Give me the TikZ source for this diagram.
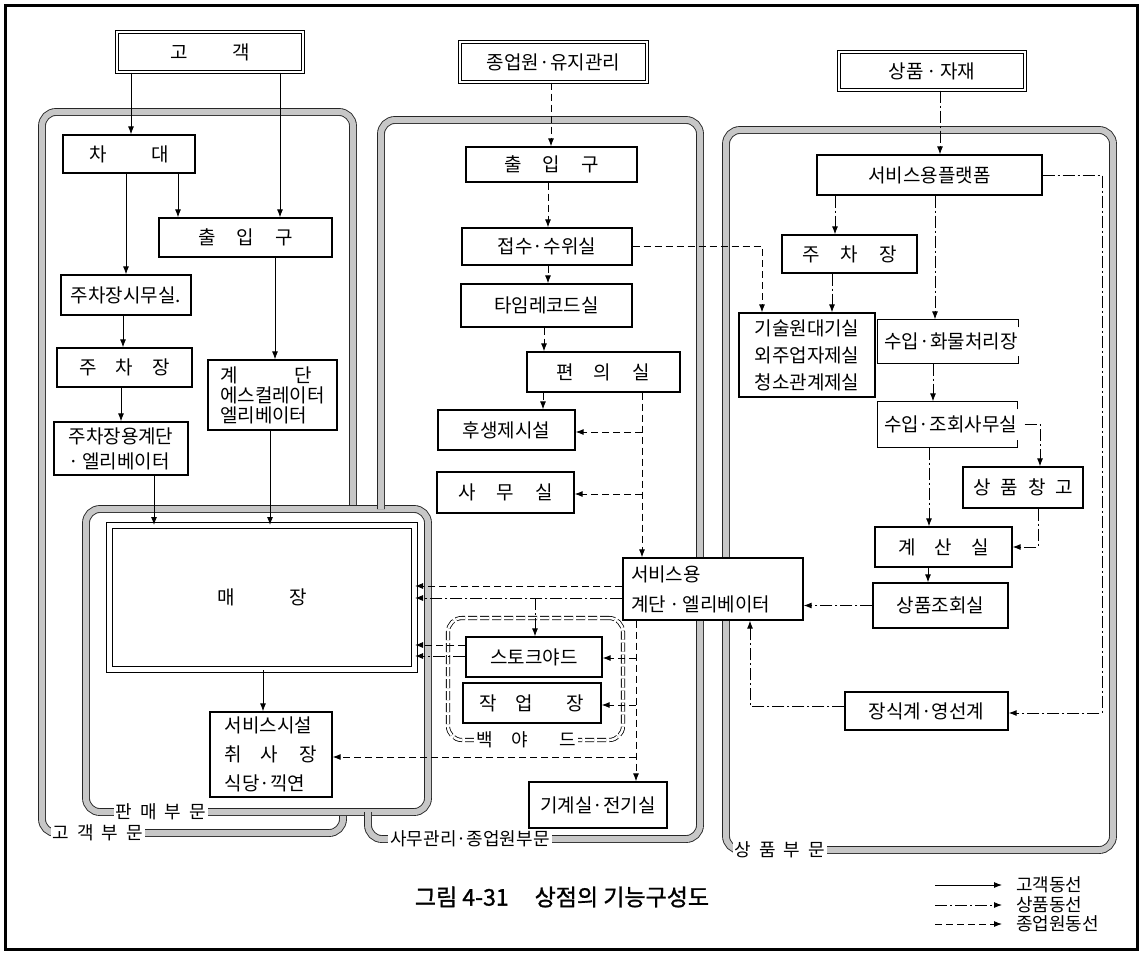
\documentclass[tikz,border=0pt]{standalone}
\usepackage{fontspec}
\newfontfamily\kr{Noto Sans CJK KR}
\newfontfamily\krb[FakeBold=1.2]{Noto Sans CJK KR}
\usetikzlibrary{arrows.meta,calc}
\newcommand\kgap[1]{\hspace*{#1pt}}
\begin{document}
\begin{tikzpicture}[x=1pt,y=-1pt,
  bx/.style={draw, line width=1.3pt, fill=white, inner sep=0pt, font={\kr\fontsize{19}{23}\selectfont}},
  dbx/.style={bx, double, double distance=2pt, line width=1pt},
  band/.style={draw=black!85, line width=0.9pt, double=black!22, double distance=6pt, rounded corners=14pt},
  blabel/.style={fill=white, inner sep=2pt, font={\kr\fontsize{18}{20}\selectfont}},
  tip/.style={-{Latex[length=8pt,width=6pt]}},
  cust/.style={line width=0.9pt, tip},
  prod/.style={line width=0.9pt, dash pattern=on 12pt off 3pt on 2pt off 3pt, tip},
  emp/.style={line width=0.9pt, dash pattern=on 7pt off 4pt, tip},
]
\useasboundingbox (0,0) rectangle (1142,954);
\fill[white] (0,0) rectangle (1142,954);

% department bands
\draw[band] (353,509) -- (353,112) -- (42,112) -- (42,833) -- (343,833) -- (343,812);
\draw[band] (86,509) rectangle (428,812);
\draw[band] (381,509) -- (381,120) -- (700,120) -- (700,839) -- (368,839) -- (368,812);
\draw[band] (726,130) rectangle (1113,850);
\node[blabel] (lb1) at (98,833) {고\kgap{8}객\kgap{8}부\kgap{8}문};
\node[blabel] (lb2) at (161,812) {판\kgap{8}매\kgap{8}부\kgap{8}문};
\node[blabel] (lb3) at (470,839) {사무관리·종업원부문};
\node[blabel] (lb4) at (780,850) {상\kgap{8}품\kgap{8}부\kgap{8}문};

% backyard boundary
\node[draw, line width=0.8pt, double=white, double distance=2.5pt, dash pattern=on 9pt off 3pt, rounded corners=14pt, minimum width=175, minimum height=122] (byd) at (535.5,679) {};
\node[blabel] (bylab) at (526,740) {백\kgap{19}야\kgap{31}드};

% left column
\node[dbx, minimum width=186, minimum height=40] (kg) at (210,52) {고\kgap{45}객};
\node[bx, minimum width=132, minimum height=38] (cd) at (129,154) {차\kgap{45}대};
\node[bx, minimum width=173, minimum height=39] (ipL) at (245.5,237.5) {출\kgap{21}입\kgap{21}구};
\node[bx, minimum width=130, minimum height=40] (pko) at (126,295) {주차장시무실.};
\node[bx, minimum width=135, minimum height=39] (pkL) at (124.5,367.5) {주\kgap{19}차\kgap{19}장};
\node[bx, minimum width=134, minimum height=53, align=left, font={\kr\fontsize{19}{25}\selectfont}] (pst) at (121,448.5) {주차장용계단\\·\,엘리베이터};
\node[bx, minimum width=129, minimum height=70, align=left, font={\kr\fontsize{19}{20}\selectfont}] (esc) at (272.5,395) {계\kgap{57}단\\에스컬레이터\\엘리베이터};
\node[bx, double, double distance=5pt, line width=1pt, minimum width=305, minimum height=144] (mj) at (262,597.5) {매\kgap{54}장};
\node[bx, minimum width=122, minimum height=85, align=left, font={\kr\fontsize{19}{29}\selectfont}] (svf) at (271,754.5) {서비스시설\\취\kgap{18}사\kgap{22}장\\식당·끽연};

% middle column
\node[dbx, minimum width=187, minimum height=40] (emp) at (553.5,62) {종업원·유지관리};
\node[bx, minimum width=171, minimum height=35] (ipM) at (551.5,164.5) {출\kgap{21}입\kgap{21}구};
\node[bx, minimum width=170, minimum height=37] (rcp) at (547,246.5) {접수·수위실};
\node[bx, minimum width=171, minimum height=43] (tr) at (546.5,305.5) {타임레코드실};
\node[bx, minimum width=153, minimum height=40] (cv) at (603.5,372) {편\kgap{19}의\kgap{22}실};
\node[bx, minimum width=137, minimum height=40] (wf) at (506.5,430) {후생제시설};
\node[bx, minimum width=137, minimum height=41] (of) at (505.5,492.5) {사\kgap{21}무\kgap{21}실};
\node[bx, minimum width=180, minimum height=62, align=left, text width=164, font={\kr\fontsize{19}{30}\selectfont}] (sel) at (713,589) {서비스용\\계단\,·\,엘리베이터};
\node[bx, minimum width=136, minimum height=40] (sy) at (534,657) {스토크야드};
\node[bx, minimum width=138, minimum height=40] (wk) at (532,703) {작\kgap{18}업\kgap{34}장};
\node[bx, minimum width=138, minimum height=46] (mech) at (598,805) {기계실·전기실};

% right column
\node[dbx, minimum width=186, minimum height=38] (goods) at (932,71) {상품\,·\,자재};
\node[bx, minimum width=225, minimum height=40] (plat) at (929.5,175) {서비스용플랫폼};
\node[bx, minimum width=135, minimum height=38] (pkR) at (849.5,254) {주\kgap{21}차\kgap{21}장};
\node[bx, minimum width=136, minimum height=84, align=left, font={\kr\fontsize{19}{27}\selectfont}] (tech) at (807,355) {기술원대기실\\외주업자제실\\청소관계제실};
\node[bx, draw=none, fill=none, minimum width=140, minimum height=43] (rcv) at (951,341.5) {수입·화물처리장};
\draw[line width=1.3pt] ($(rcv.north east)+(-3,8)$) -- ++(0,-8) -- ($(rcv.north west)+(-3,0)$) -- ($(rcv.south west)+(-3,0)$) -- ($(rcv.south east)+(-3,0)$) -- ++(0,-8);
\node[bx, draw=none, fill=none, minimum width=139, minimum height=45] (rcq) at (950.5,424.5) {수입·조회사무실};
\draw[line width=1.3pt] ($(rcq.north east)+(-3,8)$) -- ++(0,-8) -- ($(rcq.north west)+(-3,0)$) -- ($(rcq.south west)+(-3,0)$) -- ($(rcq.south east)+(-3,0)$) -- ++(0,-8);
\node[bx, minimum width=120, minimum height=41] (stk) at (1023,487.5) {상\kgap{10}품\kgap{10}창\kgap{10}고};
\node[bx, minimum width=137, minimum height=40] (calc) at (943.5,547) {계\kgap{19}산\kgap{19}실};
\node[bx, minimum width=135, minimum height=45] (gq) at (940.5,605.5) {상품조회실};
\node[bx, minimum width=163, minimum height=38] (deco) at (926.5,711) {장식계·영선계};

% customer flow
\draw[cust] (kg.south -| 131,0) -- (cd.north -| 131,0);
\draw[cust] (kg.south -| 280,0) -- (ipL.north -| 280,0);
\draw[cust] (cd.south -| 178,0) -- (ipL.north -| 178,0);
\draw[cust] (cd.south -| 126,0) -- (pko.north -| 126,0);
\draw[cust] (pko.south -| 123,0) -- (pkL.north -| 123,0);
\draw[cust] (pkL.south -| 121,0) -- (pst.north -| 121,0);
\draw[cust] (pst.south -| 154,0) -- (mj.north -| 154,0);
\draw[cust] (ipL.south -| 275,0) -- (esc.north -| 275,0);
\draw[cust] (esc.south -| 270,0) -- (mj.north -| 270,0);
\draw[cust] (mj.south -| 263,0) -- (svf.north -| 263,0);

% employee flow
\coordinate (j1) at (642,432);
\coordinate (j2) at (642,494);
\coordinate (j5) at (636,658);
\coordinate (j6) at (636,705);
\coordinate (j7) at (636,757);
\draw[emp] (emp.south -| 551,0) -- (ipM.north -| 551,0);
\draw[emp] (ipM.south -| 548,0) -- (rcp.north -| 548,0);
\draw[emp] (rcp.south -| 548,0) -- (tr.north -| 548,0);
\draw[emp] (rcp.east) -- (rcp.east -| 762,0) -- (tech.north -| 762,0);
\draw[emp] (tr.south -| 544,0) -- (cv.north -| 544,0);
\draw[emp] (cv.south -| 543,0) -- (wf.north -| 543,0);
\draw[emp] (cv.south -| 642,0) -- (sel.north -| 642,0);
\draw[emp] (j1) -- (wf.east |- j1);
\draw[emp] (j2) -- (of.east |- j2);
\draw[emp] (sel.west |- 0,586) -- (mj.east |- 0,586);
\draw[emp] (sy.west |- 0,645) -- (mj.east |- 0,645);
\draw[emp] (sel.south -| 636,0) -- (mech.north -| 636,0);
\draw[emp] (j5) -- (sy.east |- j5);
\draw[emp] (j6) -- (wk.east |- j6);
\draw[emp] (j7) -- (svf.east |- j7);

% goods flow
\coordinate (j4) at (535,598);
\coordinate (j8) at (1102,713);
\draw[prod] (sel.west |- 0,598) -- (mj.east |- 0,598);
\draw[prod] (j4) -- (sy.north -| j4);
\draw[prod] (sy.west |- 0,656) -- (mj.east |- 0,656);
\draw[prod] (goods.south -| 940,0) -- (plat.north -| 940,0);
\draw[prod] (plat.south -| 835,0) -- (pkR.north -| 835,0);
\draw[prod] (pkR.south -| 832,0) -- (tech.north -| 832,0);
\draw[prod] (plat.south -| 935,0) -- (rcv.north -| 935,0);
\draw[prod] (plat.east) -| (j8) -- (deco.east |- j8);
\draw[prod] (rcv.south -| 933,0) -- (rcq.north -| 933,0);
\draw[prod] ([xshift=4pt]rcq.east) -| (stk.north -| 1040,0);
\draw[prod] (rcq.south -| 929,0) -- (calc.north -| 929,0);
\draw[prod] (stk.south -| 1038,0) |- (calc.east);
\draw[prod] (calc.south -| 928,0) -- (gq.north -| 928,0);
\draw[prod] (gq.west) -- (sel.east |- gq.west);
\draw[prod] (deco.west |- 0,706) -| (sel.south -| 750,0);

% legend
\coordinate (la1) at (935,885); \coordinate (lb1e) at (1002,885);
\coordinate (la2) at (935,905); \coordinate (lb2e) at (1002,905);
\coordinate (la3) at (935,924); \coordinate (lb3e) at (1002,924);
\draw[cust] (la1) -- (lb1e);
\draw[prod] (la2) -- (lb2e);
\draw[emp] (la3) -- (lb3e);
\node[anchor=west, inner sep=0pt, font={\kr\fontsize{18}{20}\selectfont}] (lg1) at (1016,885) {고객동선};
\node[anchor=west, inner sep=0pt, font={\kr\fontsize{18}{20}\selectfont}] (lg2) at (1016,905) {상품동선};
\node[anchor=west, inner sep=0pt, font={\kr\fontsize{18}{20}\selectfont}] (lg3) at (1016,924) {종업원동선};

% caption
\node[font={\krb\fontsize{23}{26}\selectfont}] (cap) at (562,897) {그림 4-31\kgap{26}상점의 기능구성도};

% frame
\draw[line width=3pt] (5,5) rectangle (1137,949);
\end{tikzpicture}
\end{document}
